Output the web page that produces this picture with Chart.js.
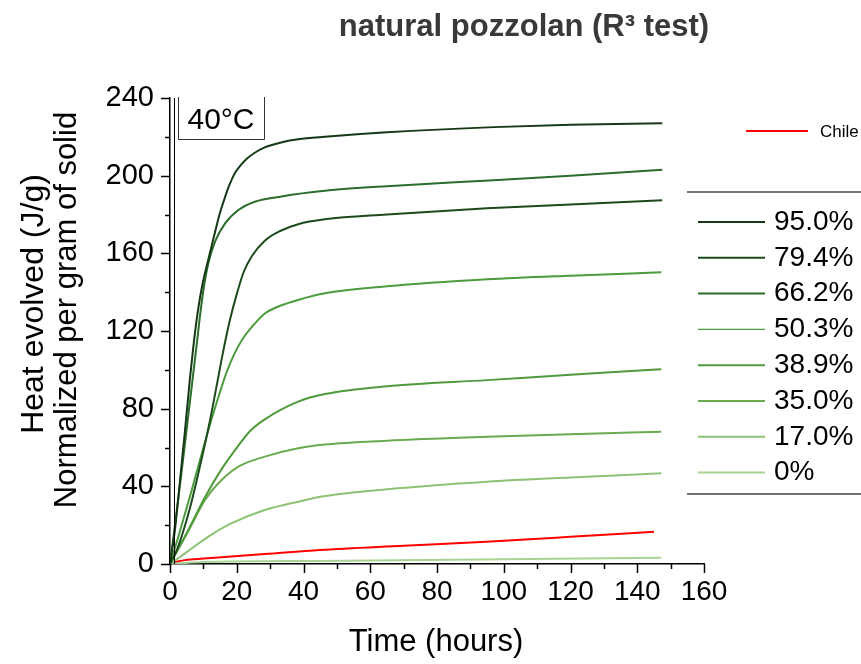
<!DOCTYPE html>
<html>
<head>
<meta charset="utf-8">
<script src="https://cdn.jsdelivr.net/npm/chart.js@4.4.1/dist/chart.umd.min.js"></script>
<style>
  html, body { margin: 0; padding: 0; background: #fff; }
  canvas { display: block; }
</style>
</head>
<body>
<canvas id="chart" width="861" height="664"></canvas>
<script>
// hours / heat (J/g), one pair per replacement level
const hours95 = [0, 1.5, 3, 4.5, 6, 7, 8, 9.5, 11.5, 13.5, 15, 16.5, 17.5, 18.5, 19.5, 21, 23, 25.4, 28.4, 33, 38.4, 46.4, 65, 97, 120, 147.5];
const heat95 = [0, 18, 43, 69, 96, 112, 126, 142, 157, 171, 181, 189, 194, 198, 201.5, 205, 208.7, 211.8, 214.6, 217, 218.7, 220, 222.3, 225, 226.2, 227];

const hours79 = [0, 2, 4, 6, 8, 10, 12, 14, 16, 18, 20, 22, 24.5, 28.4, 33, 38.4, 46.4, 65, 95, 120, 147.5];
const heat79 = [0, 7, 17, 29, 43, 58, 74, 92, 110, 126, 139, 150, 158.5, 166.5, 171.5, 175, 177.5, 180, 183.2, 185.2, 187.4];

const hours66 = [0, 2, 4, 6, 8, 9, 10, 11.5, 13.5, 16.5, 20.5, 25.4, 33.4, 46.4, 65, 97, 120, 147.5];
const heat66 = [0, 27, 55, 84, 113, 128, 141, 155, 166, 175.4, 182.3, 186.6, 189.3, 192.2, 194.6, 197.7, 200, 203];

const hours50 = [0, 2.5, 6.5, 10.5, 14.5, 17, 19.5, 22, 25, 28.4, 33, 38.4, 46.4, 65, 95, 120, 147.2];
const heat50 = [0, 14, 38, 63, 86, 99, 109, 116.5, 123, 129, 133, 136, 139.4, 143, 146.6, 148.5, 150.2];

const hours38 = [0, 5.5, 10.5, 15.5, 20.5, 24, 28.4, 38.4, 46.4, 65, 95, 120, 147.2];
const heat38 = [0, 17.5, 34.5, 49, 61, 68.5, 74.5, 83.6, 87.5, 91.5, 94.7, 97.5, 100.3];

const hours35 = [0, 5.5, 10.5, 14.5, 20.5, 28.4, 38.4, 46.4, 65, 95, 120, 147.2];
const heat35 = [0, 17, 33, 41.6, 50.1, 55.3, 59.6, 61.5, 63.5, 65.5, 66.8, 68.1];

const hours17 = [0, 4.5, 11.5, 18.5, 28.4, 38.4, 46.4, 65, 95, 120, 147.2];
const heat17 = [0, 5.5, 14.1, 21, 27.8, 32.1, 35, 38.5, 42.4, 44.6, 46.7];

const hours0 = [0, 10, 45, 100, 147.2];
const heat0 = [0, 1, 1.6, 2.4, 3.2];

const hoursChile = [0, 2, 4.5, 10, 14.5, 28.4, 44.9, 70, 94.8, 120, 145];
const heatChile = [0, 1.2, 2, 2.8, 3.4, 5.1, 7.2, 9.4, 11.5, 14, 16.6];

const levelLabels = ["95.0%", "79.4%", "66.2%", "50.3%", "38.9%", "35.0%", "17.0%", "0%"];
const levelColors = ["#163816", "#1d4a1d", "#2b6d2b", "#4c9c3e", "#4f9a3c", "#6aab52", "#8cc274", "#a9d394"];
const legendWidths = [2, 2, 2, 1.3, 2, 2, 2, 2];
const levelHours = [hours95, hours79, hours66, hours50, hours38, hours35, hours17, hours0];
const levelHeat = [heat95, heat79, heat66, heat50, heat38, heat35, heat17, heat0];

const FONT = "'Liberation Sans', Arial, sans-serif";

const toPoints = (xs, ys) => xs.map((x, i) => ({x, y: ys[i]}));

const datasets = levelLabels.map((label, i) => ({
  label,
  data: toPoints(levelHours[i], levelHeat[i]),
  borderColor: levelColors[i],
  borderWidth: 2,
}));
datasets.push({
  label: "Chile",
  data: toPoints(hoursChile, heatChile),
  borderColor: "#ff0000",
  borderWidth: 2,
});

function seg(ctx, x1, y1, x2, y2) {
  ctx.beginPath();
  ctx.moveTo(x1, y1);
  ctx.lineTo(x2, y2);
  ctx.stroke();
}

const decor = {
  id: "decor",
  afterDraw(chart) {
    const {ctx, chartArea: a, scales: {x, y}} = chart;
    ctx.save();

    // axis ticks, major and minor
    ctx.strokeStyle = "#000";
    ctx.lineWidth = 1.5;
    for (let v = 0; v <= 240; v += 20) {
      const py = Math.round(y.getPixelForValue(v)) + 0.5;
      seg(ctx, a.left - (v % 40 === 0 ? 9 : 5), py, a.left, py);
    }
    for (let t = 0; t <= 160; t += 10) {
      const px = Math.round(x.getPixelForValue(t)) + 0.5;
      seg(ctx, px, a.bottom, px, a.bottom + (t % 20 === 0 ? 9 : 5));
    }
    // inner second frame line
    ctx.lineWidth = 1;
    seg(ctx, a.left + 4.5, a.top, a.left + 4.5, a.bottom);

    // 40°C box
    ctx.strokeStyle = "#333";
    ctx.beginPath();
    ctx.moveTo(178.5, 97);
    ctx.lineTo(178.5, 139.5);
    ctx.lineTo(264.5, 139.5);
    ctx.lineTo(264.5, 97);
    ctx.stroke();
    ctx.fillStyle = "#000";
    ctx.font = "30px " + FONT;
    ctx.textAlign = "center";
    ctx.textBaseline = "alphabetic";
    ctx.fillText("40°C", 221, 129);

    // title
    ctx.fillStyle = "#3b3838";
    ctx.font = "bold 31px " + FONT;
    ctx.fillText("natural pozzolan (R³ test)", 524, 36);

    // axis titles
    ctx.fillStyle = "#000";
    ctx.font = "31px " + FONT;
    ctx.textBaseline = "middle";
    ctx.fillText("Time (hours)", 436, 642);
    ctx.save();
    ctx.translate(34, 304);
    ctx.rotate(-Math.PI / 2);
    ctx.font = "32px " + FONT;
    ctx.fillText("Heat evolved (J/g)", 0, 0);
    ctx.restore();
    ctx.save();
    ctx.translate(67, 310);
    ctx.rotate(-Math.PI / 2);
    ctx.fillText("Normalized per gram of solid", 0, 0);
    ctx.restore();

    // Chile legend entry
    ctx.strokeStyle = "#ff0000";
    ctx.lineWidth = 2;
    seg(ctx, 746, 131, 808, 131);
    ctx.fillStyle = "#000";
    ctx.font = "17px " + FONT;
    ctx.textAlign = "left";
    ctx.fillText("Chile", 820, 132);

    // replacement level legend
    ctx.strokeStyle = "#444";
    ctx.lineWidth = 1.5;
    seg(ctx, 687, 192, 861, 192);
    seg(ctx, 687, 494, 861, 494);
    ctx.font = "28px " + FONT;
    levelLabels.forEach((label, i) => {
      const ly = 222 + i * 35.8;
      ctx.strokeStyle = levelColors[i];
      ctx.lineWidth = legendWidths[i];
      seg(ctx, 698, ly, 765, ly);
      ctx.fillStyle = "#000";
      ctx.fillText(label, 774, ly);
    });

    ctx.restore();
  },
};

new Chart(document.getElementById("chart"), {
  type: "line",
  data: {datasets},
  options: {
    responsive: false,
    animation: false,
    devicePixelRatio: 1,
    layout: {padding: {top: 98, right: 157, left: 0, bottom: 0}},
    elements: {
      point: {radius: 0},
      line: {cubicInterpolationMode: "monotone", fill: false},
    },
    plugins: {legend: {display: false}, tooltip: {enabled: false}},
    scales: {
      x: {
        type: "linear",
        min: 0,
        max: 160,
        grid: {display: false, drawTicks: false},
        border: {display: true, color: "#000", width: 1.5},
        ticks: {
          stepSize: 20,
          padding: 11,
          color: "#000",
          font: {family: FONT, size: 28},
          maxRotation: 0,
        },
        afterFit(scale) { scale.height = 100; },
      },
      y: {
        type: "linear",
        min: 0,
        max: 240,
        grid: {display: false, drawTicks: false},
        border: {display: true, color: "#000", width: 1.5},
        ticks: {
          stepSize: 40,
          padding: 16,
          color: "#000",
          font: {family: FONT, size: 29},
        },
        afterFit(scale) { scale.width = 170; },
      },
    },
  },
  plugins: [decor],
});
</script>
</body>
</html>
